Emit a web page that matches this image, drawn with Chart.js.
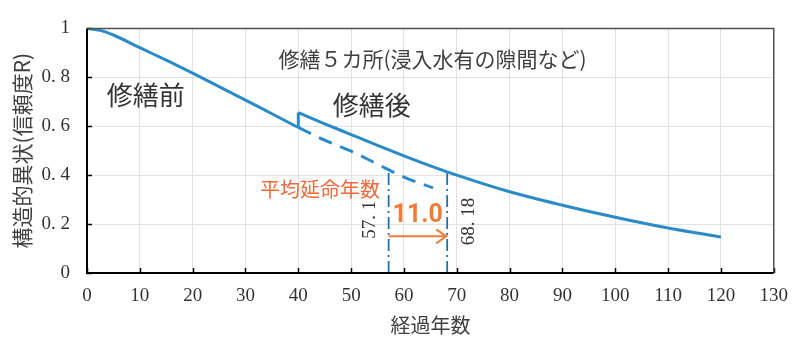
<!DOCTYPE html>
<html>
<head>
<meta charset="utf-8">
<script src="https://cdn.jsdelivr.net/npm/chart.js@4"></script>
<style>
  html, body { margin: 0; padding: 0; background: #fff; }
  #chart { display: block; }
</style>
</head>
<body>
<canvas id="chart" width="800" height="341"></canvas>
<script>
// 修繕前の信頼度曲線 (0〜40年)
const preYears = [0, 2.5, 5, 10, 15, 20, 25, 30, 35, 40];
const preR = [1.0, 0.992, 0.973, 0.921, 0.870, 0.817, 0.762, 0.707, 0.651, 0.595];

// 修繕しなかった場合の延長 (破線)
const dashYears = [40, 45, 50, 55, 60, 65.5];
const dashR = [0.595, 0.543, 0.498, 0.445, 0.392, 0.348];

// 修繕後の信頼度曲線
const postYears = [40, 45, 50, 55, 60, 65, 70, 80, 90, 100, 110, 120];
const postR = [0.656, 0.610, 0.566, 0.522, 0.479, 0.438, 0.400, 0.332, 0.277, 0.228, 0.184, 0.147];

// 平均延命年数
const lifeBefore = 57.1;
const lifeAfter = 68.18;
const lifeBeforeR = 0.423;
const lifeAfterR = 0.414;
const extension = '11.0';
const arrowR = 0.15;

const xTicks = [0, 10, 20, 30, 40, 50, 60, 70, 80, 90, 100, 110, 120, 130];
const yTicks = [0, 0.2, 0.4, 0.6, 0.8, 1];

const BLUE = '#2b8bc8';
const DARK_BLUE = '#1f72b0';
const ORANGE = '#ee7d3a';
const SERIF = '"Liberation Serif", "DejaVu Serif", serif';
const JP = '"Noto Sans CJK JP", sans-serif';

function pts(xs, ys) {
    return xs.map((x, i) => ({ x: x, y: ys[i] }));
}

const notes = [
    { text: '修繕前', x: 11.1, y: 0.726, font: '26px ' + JP, color: '#333' },
    { text: '修繕後', x: 53.9, y: 0.688, font: '26px ' + JP, color: '#333' },
    { text: '修繕５カ所(浸入水有の隙間など)', x: 65.4, y: 0.876, font: '21px ' + JP, color: '#404040' },
    { text: '平均延命年数', x: 44.1, y: 0.342, font: '20px ' + JP, color: '#f06a3c' },
    { text: extension, x: 62.6, y: 0.234, font: 'bold 25px "Liberation Sans Narrow", Roboto, sans-serif', color: ORANGE },
    { text: '57. 1', x: 53.5, y: 0.218, font: '19px ' + SERIF, color: '#333', rotate: true },
    { text: '68. 18', x: 72.3, y: 0.211, font: '19px ' + SERIF, color: '#333', rotate: true }
];

const notesPlugin = {
    id: 'notes',
    afterDatasetsDraw(chart) {
        const ctx = chart.ctx;
        const xs = chart.scales.x, ys = chart.scales.y;

        // arrowhead
        const tipX = xs.getPixelForValue(lifeAfter), tipY = ys.getPixelForValue(arrowR);
        ctx.save();
        ctx.strokeStyle = ORANGE;
        ctx.lineWidth = 2;
        ctx.beginPath();
        ctx.moveTo(tipX - 11, tipY - 7);
        ctx.lineTo(tipX - 1, tipY);
        ctx.lineTo(tipX - 11, tipY + 7);
        ctx.stroke();
        ctx.restore();

        notes.forEach(n => {
            ctx.save();
            ctx.font = n.font;
            ctx.fillStyle = n.color;
            ctx.textAlign = 'center';
            ctx.textBaseline = 'middle';
            ctx.translate(xs.getPixelForValue(n.x), ys.getPixelForValue(n.y));
            if (n.rotate) ctx.rotate(-Math.PI / 2);
            ctx.fillText(n.text, 0, 0);
            ctx.restore();
        });
    },
    afterDraw(chart) {
        const ctx = chart.ctx;
        const a = chart.chartArea;
        const xs = chart.scales.x, ys = chart.scales.y;
        ctx.save();
        // inward tick marks
        ctx.strokeStyle = '#000';
        ctx.lineWidth = 1.5;
        ctx.beginPath();
        xTicks.forEach(v => {
            const px = Math.round(xs.getPixelForValue(v)) + 0.5;
            ctx.moveTo(px, a.bottom);
            ctx.lineTo(px, a.bottom - 5);
        });
        yTicks.forEach(v => {
            const py = Math.round(ys.getPixelForValue(v)) + 0.5;
            ctx.moveTo(a.left, py);
            ctx.lineTo(a.left + 5, py);
        });
        ctx.stroke();
        // frame
        ctx.strokeStyle = '#505050';
        ctx.lineWidth = 1.5;
        ctx.beginPath();
        ctx.moveTo(a.left, a.top);
        ctx.lineTo(a.right, a.top);
        ctx.lineTo(a.right, a.bottom);
        ctx.stroke();
        ctx.strokeStyle = '#000';
        ctx.lineWidth = 2;
        ctx.beginPath();
        ctx.moveTo(a.left, a.top);
        ctx.lineTo(a.left, a.bottom);
        ctx.lineTo(a.right, a.bottom);
        ctx.stroke();
        ctx.restore();
    }
};

const curve = { showLine: true, pointRadius: 0, fill: false, cubicInterpolationMode: 'monotone' };

new Chart(document.getElementById('chart'), {
    type: 'scatter',
    data: {
        datasets: [
            { ...curve, label: '修繕前', data: pts(preYears, preR), borderColor: BLUE, borderWidth: 3 },
            { ...curve, label: '延長', data: pts(dashYears, dashR), borderColor: BLUE, borderWidth: 3, borderDash: [14, 9] },
            { ...curve, label: '修繕後', data: pts(postYears, postR), borderColor: BLUE, borderWidth: 3 },
            { showLine: true, pointRadius: 0, label: '修繕', data: pts([40, 40], [preR[preR.length - 1], postR[0]]), borderColor: BLUE, borderWidth: 3 },
            { showLine: true, pointRadius: 0, label: '寿命前', data: pts([lifeBefore, lifeBefore], [0, lifeBeforeR]), borderColor: DARK_BLUE, borderWidth: 1.8, borderDash: [12, 4, 2, 4] },
            { showLine: true, pointRadius: 0, label: '寿命後', data: pts([lifeAfter, lifeAfter], [0, lifeAfterR]), borderColor: DARK_BLUE, borderWidth: 1.8, borderDash: [12, 4, 2, 4] },
            { showLine: true, pointRadius: 0, label: '延命', data: pts([lifeBefore, lifeAfter], [arrowR, arrowR]), borderColor: ORANGE, borderWidth: 2 }
        ]
    },
    options: {
        responsive: false,
        animation: false,
        layout: { padding: { left: 0, top: 15, right: 21, bottom: 0 } },
        plugins: { legend: { display: false }, tooltip: { enabled: false } },
        scales: {
            x: {
                type: 'linear',
                min: 0,
                max: 130,
                afterFit: s => { s.height = 68; },
                afterBuildTicks: s => { s.ticks = xTicks.map(v => ({ value: v })); },
                grid: { color: '#e2e2e2', lineWidth: 1, drawTicks: false },
                border: { display: false },
                ticks: { padding: 12, color: '#333', font: { family: SERIF, size: 19 } },
                title: { display: true, text: '経過年数', color: '#404040', font: { family: JP, size: 20 }, padding: { top: 0, bottom: 4 } }
            },
            y: {
                min: 0,
                max: 1,
                afterFit: s => { s.width = 87; },
                afterBuildTicks: s => { s.ticks = yTicks.map(v => ({ value: v })); },
                grid: { color: '#e2e2e2', lineWidth: 1, drawTicks: false },
                border: { display: false },
                ticks: {
                    padding: 17,
                    color: '#333',
                    font: { family: SERIF, size: 19 },
                    callback: v => (v === 0 || v === 1) ? String(v) : v.toFixed(1).replace('.', '. ')
                },
                title: { display: true, text: '構造的異状(信頼度R)', color: '#404040', font: { family: JP, size: 21 }, padding: { top: 9, bottom: 0 } }
            }
        }
    },
    plugins: [notesPlugin]
});
</script>
</body>
</html>
